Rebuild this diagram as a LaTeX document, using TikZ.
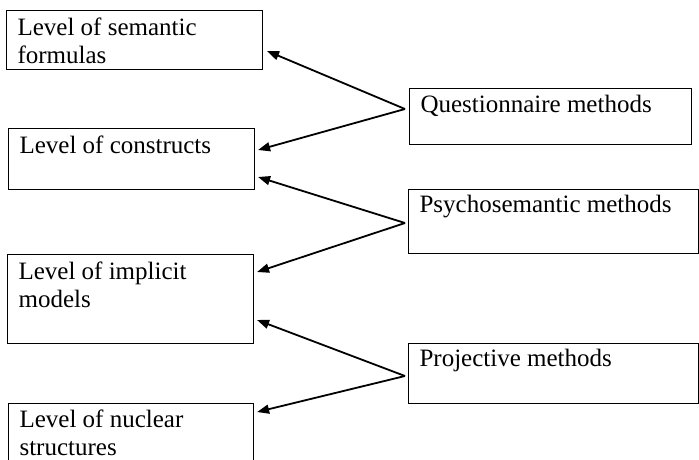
\documentclass[tikz,border=0pt]{standalone}
\usepackage{fontspec}
\setmainfont{Liberation Serif}
\usetikzlibrary{arrows.meta}
% box text: width, height, first baseline, lines
\newcommand{\boxlines}[4]{\parbox[c][#2pt][t]{#1pt}{\raggedright\leftskip=11pt\rule{0pt}{#3pt}#4}}

\begin{document}
\begin{tikzpicture}[x=1pt,y=-1pt,
    levelbox/.style={draw,line width=1.1pt,anchor=north west,inner sep=0pt,
      font=\fontsize{25}{28}\selectfont},
    link/.style={->,line width=1.8pt},
    >={Triangle[length=12pt,width=9pt]}
  ]
  \useasboundingbox (0,0) rectangle (699,459);
  \clip (0,0) rectangle (699,459);
  % Levels
  \node[levelbox] (sem) at (6,10)   {\boxlines{256}{59}{25}{Level of semantic\\formulas}};
  \node[levelbox] (con) at (8,128)  {\boxlines{246}{61}{25}{Level of constructs}};
  \node[levelbox] (imp) at (7,254)  {\boxlines{246}{89}{25}{Level of implicit\\models}};
  \node[levelbox] (nuc) at (8,403)  {\boxlines{245}{80}{24}{Level of nuclear\\structures}};
  % Methods
  \node[levelbox] (que) at (409,88)  {\boxlines{282}{56}{24}{Questionnaire methods}};
  \node[levelbox] (psy) at (408,189) {\boxlines{290}{64}{23}{Psychosemantic methods}};
  \node[levelbox] (pro) at (408,343) {\boxlines{290}{60}{23}{Projective methods}};
  \coordinate (qm) at ([shift={(-4,21)}]que.north west);
  \coordinate (pm) at ([shift={(-3,34)}]psy.north west);
  \coordinate (rm) at ([shift={(-3,33)}]pro.north west);
  % Links
  \draw[link] (qm) -- ([shift={(4,41)}]sem.north east);
  \draw[link] (qm) -- ([shift={(3,22)}]con.north east);
  \draw[link] (pm) -- ([shift={(3,49)}]con.north east);
  \draw[link] (pm) -- ([shift={(3,18)}]imp.north east);
  \draw[link] (rm) -- ([shift={(3,66)}]imp.north east);
  \draw[link] (rm) -- ([shift={(3,9)}]nuc.north east);
\end{tikzpicture}
\end{document}
